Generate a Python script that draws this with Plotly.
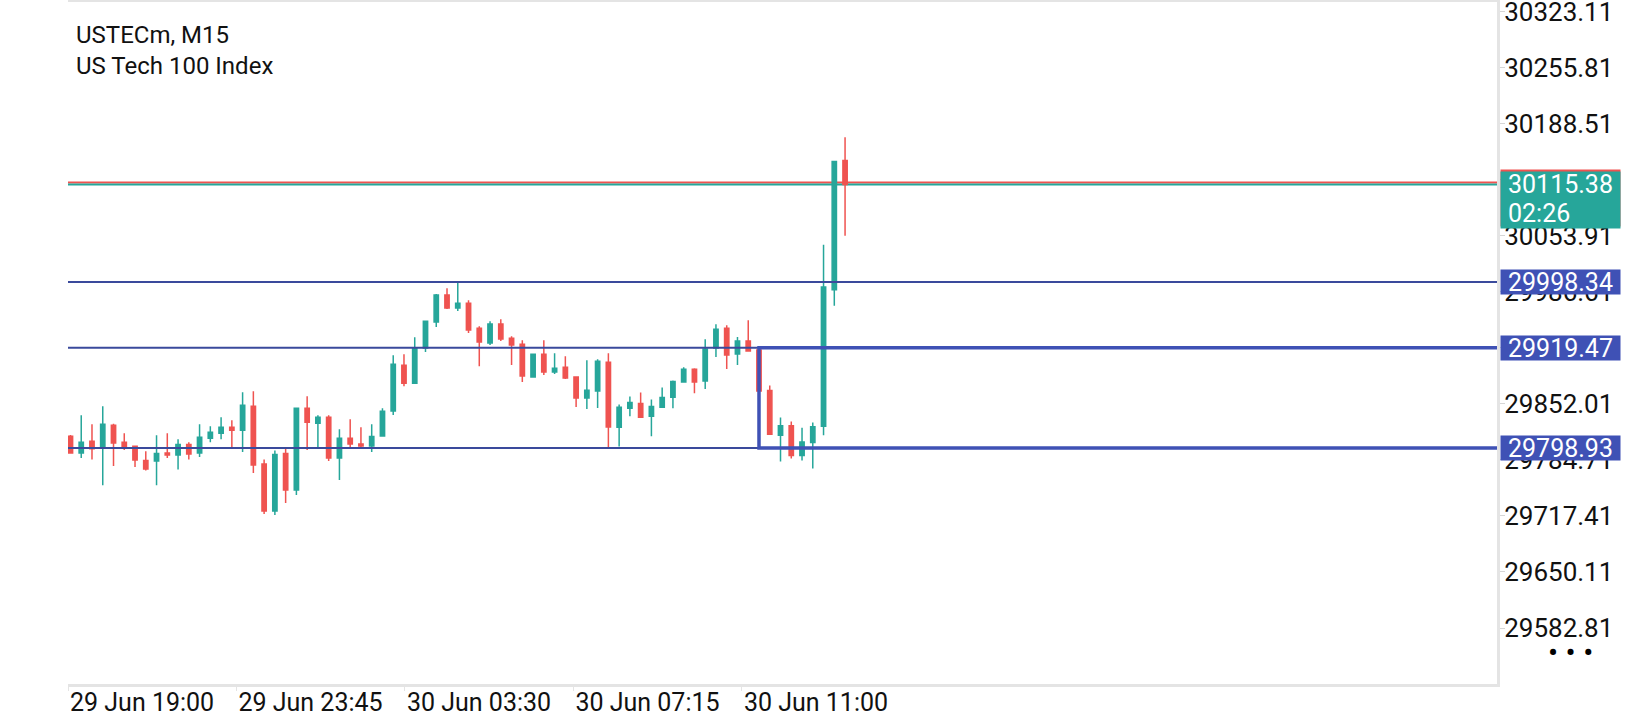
import plotly.graph_objects as go

# USTECm M15 candles, oldest first
opens = [29813.0, 29793.0, 29807.0, 29798.9, 29826.2, 29805.8, 29801.0, 29784.1, 29783.3, 29793.0,
         29790.5, 29803.3, 29793.0, 29810.6, 29816.6, 29823.8, 29820.2, 29849.0, 29779.7, 29723.3,
         29792.5, 29748.5, 29846.6, 29828.6, 29835.8, 29786.9, 29810.6, 29803.8, 29801.4, 29813.4,
         29843.4, 29898.2, 29876.6, 29919.1, 29950.3, 29982.7, 29967.1, 29972.7, 29942.7, 29925.1,
         29947.9, 29930.7, 29923.5, 29884.2, 29911.5, 29890.3, 29895.8, 29884.2, 29859.0, 29867.4,
         29901.8, 29823.8, 29846.7, 29852.4, 29837.1, 29847.9, 29860.0, 29878.1, 29893.4, 29879.3,
         29919.1, 29942.8, 29911.9, 29927.6, 29916.7, 29868.1, 29814.2, 29825.8, 29790.0, 29805.7,
         29825.0, 29989.1, 30144.3]
highs = [29814.5, 29838.2, 29827.4, 29849.0, 29828.2, 29816.6, 29801.8, 29795.0, 29814.2, 29816.6,
         29809.4, 29805.8, 29827.4, 29825.0, 29835.8, 29832.2, 29865.8, 29867.0, 29785.3, 29796.1,
         29800.2, 29847.0, 29861.0, 29838.2, 29838.2, 29821.4, 29833.4, 29823.8, 29827.4, 29846.6,
         29910.3, 29911.5, 29931.9, 29952.0, 29983.9, 29990.7, 29998.9, 29976.3, 29945.1, 29951.1,
         29953.5, 29933.1, 29928.3, 29912.0, 29928.3, 29912.7, 29909.1, 29884.6, 29904.2, 29905.4,
         29912.7, 29851.2, 29860.8, 29865.6, 29857.2, 29871.7, 29880.1, 29895.8, 29894.6, 29929.6,
         29947.7, 29946.5, 29932.4, 29952.5, 29920.3, 29874.1, 29835.5, 29830.7, 29823.4, 29829.5,
         30043.0, 30143.5, 30172.0]
lows = [29792.0, 29786.9, 29785.3, 29754.1, 29777.3, 29796.5, 29776.1, 29772.1, 29754.1, 29786.9,
        29773.3, 29785.3, 29788.1, 29805.8, 29809.4, 29800.2, 29794.1, 29768.9, 29719.7, 29718.5,
        29732.9, 29742.5, 29796.5, 29800.2, 29783.3, 29760.5, 29800.2, 29800.2, 29794.1, 29813.0,
        29838.6, 29873.0, 29876.0, 29914.3, 29944.3, 29965.9, 29963.5, 29937.1, 29897.0, 29922.7,
        29927.5, 29898.6, 29878.2, 29884.0, 29886.6, 29887.8, 29881.8, 29848.2, 29845.8, 29847.0,
        29798.9, 29800.9, 29837.1, 29835.0, 29813.0, 29847.0, 29846.7, 29878.0, 29864.8, 29869.7,
        29908.3, 29893.8, 29898.6, 29915.0, 29866.0, 29815.0, 29782.8, 29786.4, 29784.0, 29774.4,
        29814.2, 29969.8, 30053.8]
closes = [29793.0, 29805.8, 29798.1, 29827.4, 29804.9, 29800.2, 29784.5, 29773.7, 29792.5, 29790.5,
          29803.3, 29791.7, 29811.8, 29817.8, 29823.8, 29820.2, 29850.2, 29778.5, 29723.3, 29791.3,
          29748.5, 29846.6, 29829.8, 29835.8, 29786.9, 29810.6, 29803.8, 29801.4, 29812.9, 29843.0,
          29899.5, 29876.6, 29919.1, 29951.1, 29982.7, 29967.1, 29972.7, 29940.7, 29926.3, 29947.9,
          29929.9, 29922.7, 29885.4, 29911.5, 29890.3, 29894.6, 29883.0, 29859.0, 29868.2, 29903.0,
          29824.2, 29847.9, 29853.6, 29835.9, 29848.8, 29859.6, 29878.9, 29893.4, 29878.1, 29917.9,
          29941.6, 29910.7, 29927.6, 29915.5, 29867.3, 29815.4, 29825.8, 29790.0, 29806.1, 29824.6,
          29992.3, 30143.1, 30115.38]
bars = list(range(len(opens)))

time_labels = ["29 Jun 19:00", "29 Jun 23:45", "30 Jun 03:30", "30 Jun 07:15", "30 Jun 11:00"]
price_ticks = [30323.11 - 67.3 * k for k in range(12)]

levels = [29998.34, 29919.47, 29798.93]
zone_low, zone_high = 29798.93, 29919.47
zone_start_bar = 64
bid = 30115.38
ask = 30117.8
timer = "02:26"

UP = "#26A69A"
DOWN = "#EF5350"
BLUE = "#3F51B5"
FRAME = "#e4e4e4"
FONT = "Roboto"

fig = go.Figure(go.Candlestick(
    x=bars, open=opens, high=highs, low=lows, close=closes,
    increasing=dict(line=dict(color=UP, width=1.5), fillcolor=UP),
    decreasing=dict(line=dict(color=DOWN, width=1.5), fillcolor=DOWN),
    showlegend=False, hoverinfo="skip",
))

shapes = [
    dict(type="line", xref="paper", x0=0, x1=1, yref="y", y0=ask, y1=ask,
         line=dict(color=DOWN, width=2), layer="below"),
    dict(type="line", xref="paper", x0=0, x1=1, yref="y", y0=bid, y1=bid,
         line=dict(color=UP, width=2), layer="below"),
]
for lv in levels:
    shapes.append(dict(type="line", xref="paper", x0=0, x1=1, yref="y", y0=lv, y1=lv,
                       line=dict(color="#3A4A9C", width=2)))
shapes.append(dict(type="rect", xref="x", x0=zone_start_bar, x1=zone_start_bar + 100,
                   yref="y", y0=zone_low, y1=zone_high,
                   line=dict(color=BLUE, width=3.5), fillcolor="rgba(0,0,0,0)"))

annotations = [
    dict(text="USTECm, M15<br>US Tech 100 Index", xref="paper", yref="paper", x=0.0042, y=0.9755,
         xanchor="left", yanchor="top", align="left", showarrow=False,
         font=dict(family=FONT, size=24, color="#111111")),
]
for lv in levels:
    annotations.append(dict(text=f"{lv:.2f}", xref="paper", x=1, xshift=3, xanchor="left",
                            yref="y", y=lv, yanchor="middle", showarrow=False,
                            bgcolor=BLUE, width=119, height=24, borderpad=0, align="center",
                            font=dict(family=FONT, size=25, color="white")))
# ask box sits just behind the bid box, only its top edge shows
for color, shift in [(DOWN, 15), (UP, 13)]:
    annotations.append(dict(text="0", xref="paper", x=1, xshift=3, xanchor="left",
                            yref="y", y=bid, yanchor="top", yshift=shift, showarrow=False,
                            bgcolor=color, width=119, height=56, borderpad=0,
                            font=dict(family=FONT, size=10, color=color)))
annotations.append(dict(text=f"{bid:.2f}", xref="paper", x=1, xshift=9, xanchor="left",
                        yref="y", y=bid, yanchor="middle", yshift=0, showarrow=False,
                        font=dict(family=FONT, size=25, color="white")))
annotations.append(dict(text=timer, xref="paper", x=1, xshift=9, xanchor="left",
                        yref="y", y=bid, yanchor="middle", yshift=-29, showarrow=False,
                        font=dict(family=FONT, size=25, color="white")))
annotations.append(dict(text="•\u00a0•\u00a0•", xref="paper", yref="paper",
                        x=1.0511, y=0.0469, xanchor="center", yanchor="middle", showarrow=False,
                        font=dict(family=FONT, size=30, color="black")))

fig.update_layout(
    width=1640, height=720,
    margin=dict(l=68, r=143, t=2, b=36),
    paper_bgcolor="white", plot_bgcolor="white",
    boxgap=0.6, boxgroupgap=0,
    shapes=shapes, annotations=annotations,
    showlegend=False,
    xaxis=dict(
        range=[-0.23, 132.6], rangeslider=dict(visible=False), automargin=False,
        tickvals=[-0.23 + 15.66 * k for k in range(len(time_labels))], ticktext=time_labels,
        ticklabelposition="outside right", ticklabeloverflow="allow", ticklabelstandoff=-6,
        showgrid=False, zeroline=False,
        showline=True, mirror=True, linecolor=FRAME, linewidth=3,
        ticks="outside", ticklen=4, tickcolor=FRAME,
        tickfont=dict(family=FONT, size=25, color="#111111"),
    ),
    yaxis=dict(
        side="right", range=[29515.6, 30334.5], automargin=False,
        tickvals=price_ticks, ticktext=[f"{v:.2f}" for v in price_ticks],
        ticklabeloverflow="allow", ticklabelstandoff=-6,
        showgrid=False, zeroline=False,
        showline=True, linecolor=FRAME, linewidth=3,
        ticks="outside", ticklen=5, tickcolor="#d6d6d6",
        tickfont=dict(family=FONT, size=26, color="#111111"),
    ),
)

# drop the page's default body margin so the figure sits at the window's corner
fig.write_html("out.html", config={"displayModeBar": False},
               post_script="document.body.style.margin='0';")
